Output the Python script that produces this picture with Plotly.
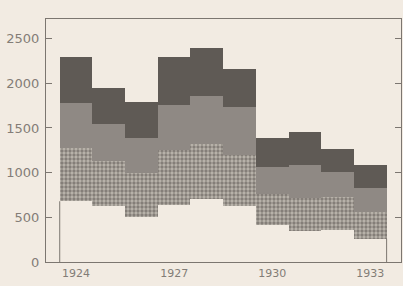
import plotly.graph_objects as go

years = [1924, 1925, 1926, 1927, 1928, 1929, 1930, 1931, 1932, 1933]
base_light = [680, 630, 500, 640, 705, 625, 410, 350, 360, 260]
cross_hatched = [595, 505, 500, 615, 615, 575, 355, 370, 370, 295]
medium_grey = [505, 410, 390, 505, 540, 540, 300, 370, 280, 270]
dark_grey = [510, 400, 400, 540, 530, 415, 325, 360, 250, 265]
x_tick_years = [1924, 1927, 1930, 1933]
y_ticks = [0, 500, 1000, 1500, 2000, 2500]

BG = "#f2ebe2"
AX = "#7c7670"

fig = go.Figure()
fig.add_trace(go.Bar(x=years, y=base_light, marker=dict(color=BG, line=dict(width=0)), width=1))
fig.add_trace(go.Bar(x=years, y=cross_hatched, width=1,
                     marker=dict(color="#7f7973", line=dict(width=0),
                                 pattern=dict(shape=".", fgcolor="#f0e9e0", bgcolor="#7f7973",
                                              size=4, solidity=0.55))))
fig.add_trace(go.Bar(x=years, y=medium_grey, width=1, marker=dict(color="#8f8984", line=dict(width=0))))
fig.add_trace(go.Bar(x=years, y=dark_grey, width=1, marker=dict(color="#5f5a55", line=dict(width=0))))

# outline of the light base segment at both ends of the group
fig.add_shape(type="line", x0=years[0] - 0.5, x1=years[0] - 0.5, y0=0, y1=base_light[0],
              line=dict(color=AX, width=1))
fig.add_shape(type="line", x0=years[-1] + 0.5, x1=years[-1] + 0.5, y0=0, y1=base_light[-1],
              line=dict(color=AX, width=1))

fig.update_layout(
    width=403, height=286,
    margin=dict(l=46, r=2, t=19, b=24),
    barmode="stack", bargap=0, showlegend=False,
    paper_bgcolor=BG, plot_bgcolor=BG,
    font=dict(family="DejaVu Sans", color="#837d77"),
)
fig.update_xaxes(range=[1923.08, 1933.94], tickvals=x_tick_years, ticktext=[str(v) for v in x_tick_years],
                 showgrid=False, zeroline=False, showline=True, linecolor=AX, linewidth=1,
                 mirror=True, ticks="", tickfont=dict(size=11), ticklabelstandoff=1,
                 automargin=False)
fig.update_yaxes(range=[0, 2720], tickvals=y_ticks, showgrid=False, zeroline=False,
                 showline=True, linecolor=AX, linewidth=1, mirror="allticks",
                 ticks="inside", ticklen=6, tickcolor=AX, tickfont=dict(size=13),
                 ticklabelstandoff=3, automargin=False)

fig.write_html("out.html", config={"displayModeBar": False},
               post_script="document.body.style.margin='0';document.body.style.background='%s';" % BG)
